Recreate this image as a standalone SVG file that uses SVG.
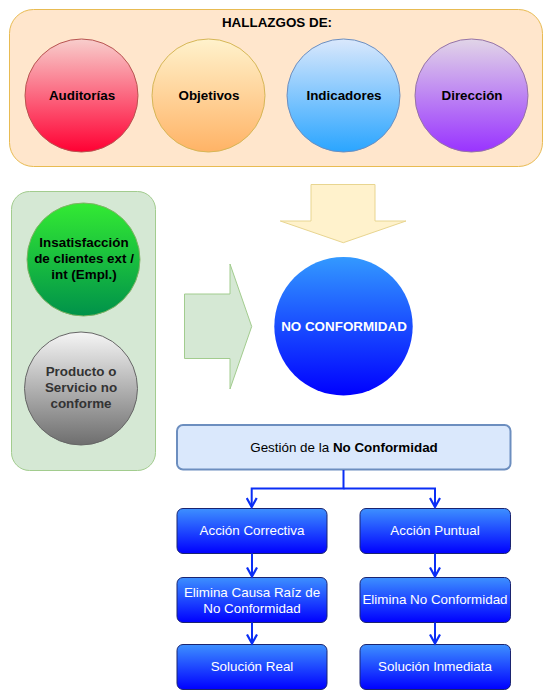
<svg xmlns="http://www.w3.org/2000/svg" width="555" height="700" viewBox="0 0 555 700">
<defs>
<linearGradient id="gRed" x1="0" y1="0" x2="0" y2="1"><stop offset="0" stop-color="#f8cecc"/><stop offset="1" stop-color="#ff0033"/></linearGradient>
<linearGradient id="gOrange" x1="0" y1="0" x2="0" y2="1"><stop offset="0" stop-color="#fff2cc"/><stop offset="1" stop-color="#ffb366"/></linearGradient>
<linearGradient id="gBlue" x1="0" y1="0" x2="0" y2="1"><stop offset="0" stop-color="#dae8fc"/><stop offset="1" stop-color="#2aa5ff"/></linearGradient>
<linearGradient id="gPurple" x1="0" y1="0" x2="0" y2="1"><stop offset="0" stop-color="#e1d5e7"/><stop offset="1" stop-color="#9933ff"/></linearGradient>
<linearGradient id="gGreen" x1="0" y1="0" x2="0" y2="1"><stop offset="0" stop-color="#33ea33"/><stop offset="1" stop-color="#00924a"/></linearGradient>
<linearGradient id="gGray" x1="0" y1="0" x2="0" y2="1"><stop offset="0" stop-color="#f5f5f5"/><stop offset="1" stop-color="#6e6e6e"/></linearGradient>
<linearGradient id="gNC" x1="0" y1="0" x2="0" y2="1"><stop offset="0" stop-color="#3399ff"/><stop offset="1" stop-color="#0000ff"/></linearGradient>
<linearGradient id="gBox" x1="0" y1="0" x2="0" y2="1"><stop offset="0" stop-color="#3d90ff"/><stop offset="1" stop-color="#0000ff"/></linearGradient>
<marker id="arr" viewBox="0 0 12 12" refX="10" refY="6" markerWidth="12" markerHeight="12" markerUnits="userSpaceOnUse" orient="auto">
<path d="M1,1 L10,6 L1,11" fill="none" stroke="#0a2ef5" stroke-width="2.2"/>
</marker>
</defs>
<style>
text{font-family:"Liberation Sans",Arial,sans-serif;font-size:13.4px;text-anchor:middle;}
.b{font-weight:bold;}
.w{fill:#ffffff;}
.box{fill:url(#gBox);stroke:#1a2470;stroke-width:1;}
.conn{fill:none;stroke:#0a2ef5;stroke-width:2;}
</style>

<g id="hallazgos">
<rect x="9.5" y="9.5" width="533" height="157" rx="24" fill="#ffe6cc" stroke="#e8bb52" stroke-width="1"/>
<text x="277" y="27" class="b">HALLAZGOS DE:</text>
</g>
<g id="auditorias">
<circle cx="81.5" cy="95.5" r="56.5" fill="url(#gRed)" stroke="#b85450"/>
<text x="82" y="100" class="b">Auditorías</text>
</g>
<g id="objetivos">
<circle cx="208.5" cy="95.5" r="56.5" fill="url(#gOrange)" stroke="#d6b656"/>
<text x="209" y="100" class="b">Objetivos</text>
</g>
<g id="indicadores">
<circle cx="343.5" cy="95.5" r="56.5" fill="url(#gBlue)" stroke="#6c8ebf"/>
<text x="344" y="100" class="b">Indicadores</text>
</g>
<g id="direccion">
<circle cx="471.5" cy="95.5" r="56.5" fill="url(#gPurple)" stroke="#9673a6"/>
<text x="472" y="100" class="b">Dirección</text>
</g>

<g id="flecha-abajo">
<path d="M311,184.5 L375,184.5 L375,221 L406,221 L343.3,242.7 L280.3,221 L311,221 Z" fill="#fff2cc" stroke="#e8d590" stroke-width="1"/>
</g>

<g id="fuentes">
<rect x="11.5" y="191.5" width="144" height="279" rx="18" fill="#d5e8d4" stroke="#a2cc8e" stroke-width="1"/>
</g>
<g id="insatisfaccion">
<circle cx="83.5" cy="259.5" r="56.5" fill="url(#gGreen)" stroke="#82b366"/>
<text x="84" y="247" class="b">Insatisfacción</text>
<text x="84" y="263" class="b">de clientes ext /</text>
<text x="84" y="279" class="b">int (Empl.)</text>
</g>
<g id="producto">
<circle cx="81" cy="388.5" r="56.5" fill="url(#gGray)" stroke="#666666"/>
<text x="81" y="376" class="b" fill="#333333">Producto o</text>
<text x="81" y="392" class="b" fill="#333333">Servicio no</text>
<text x="81" y="408" class="b" fill="#333333">conforme</text>
</g>

<g id="flecha-derecha">
<path d="M184.5,294 L230,294 L230,264 L251.7,326.5 L230,389 L230,358.5 L184.5,358.5 Z" fill="#d5e8d4" stroke="#a2cc8e" stroke-width="1"/>
</g>

<g id="no-conformidad">
<circle cx="343.5" cy="326.2" r="69.2" fill="url(#gNC)"/>
<text x="344" y="331" class="b w">NO CONFORMIDAD</text>
</g>

<g id="gestion">
<rect x="177" y="425" width="333.5" height="44.5" rx="6" fill="#dae8fc" stroke="#6c8ebf" stroke-width="2"/>
<text x="344" y="452">Gestión de la <tspan class="b">No Conformidad</tspan></text>
</g>

<g id="accion-correctiva">
<rect x="177" y="508.5" width="150" height="45" rx="6" class="box"/>
<text x="252" y="535" class="w">Acción Correctiva</text>
</g>
<g id="accion-puntual">
<rect x="360" y="508.5" width="150.5" height="45" rx="6" class="box"/>
<text x="435" y="535" class="w">Acción Puntual</text>
</g>
<g id="elimina-causa">
<rect x="177" y="577.5" width="150" height="45" rx="6" class="box"/>
<text x="252" y="596.5" class="w">Elimina Causa Raíz de</text>
<text x="252" y="612.5" class="w">No Conformidad</text>
</g>
<g id="elimina-nc">
<rect x="360" y="577.5" width="150.5" height="45" rx="6" class="box"/>
<text x="435" y="604" class="w">Elimina No Conformidad</text>
</g>
<g id="solucion-real">
<rect x="177" y="644.5" width="150" height="45" rx="6" class="box"/>
<text x="252" y="671" class="w">Solución Real</text>
</g>
<g id="solucion-inmediata">
<rect x="360" y="644.5" width="150.5" height="45" rx="6" class="box"/>
<text x="435" y="671" class="w">Solución Inmediata</text>
</g>

<g id="connectors">
<path class="conn" d="M343.5,470 L343.5,488.5 L251.7,488.5 L251.7,507" marker-end="url(#arr)"/>
<path class="conn" d="M343.5,488.5 L435,488.5 L435,507" marker-end="url(#arr)"/>
<path class="conn" d="M252,553.5 L252,576.5" marker-end="url(#arr)"/>
<path class="conn" d="M435,553.5 L435,576.5" marker-end="url(#arr)"/>
<path class="conn" d="M252,622.5 L252,643.5" marker-end="url(#arr)"/>
<path class="conn" d="M435,622.5 L435,643.5" marker-end="url(#arr)"/>
</g>
</svg>
